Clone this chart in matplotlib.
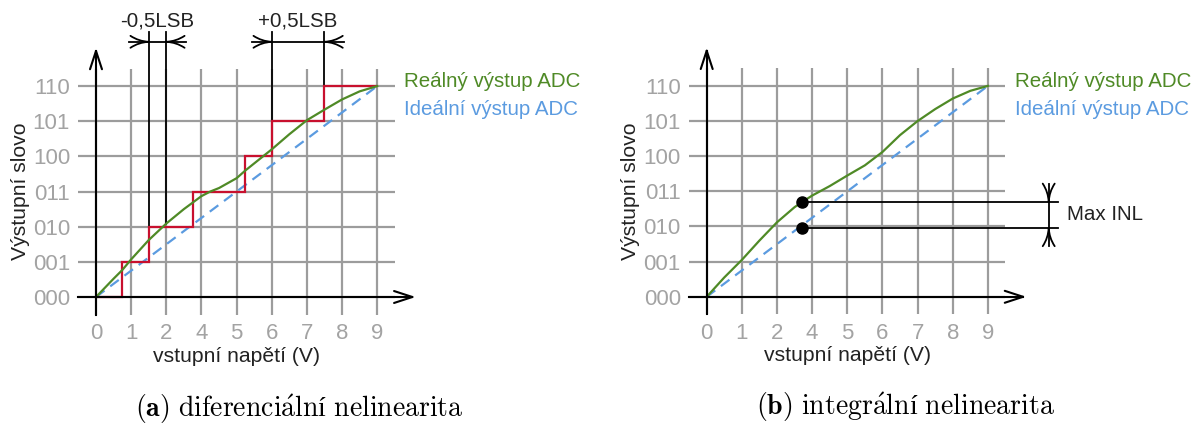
import numpy as np
import matplotlib
matplotlib.use("Agg")
import matplotlib.pyplot as plt
from matplotlib.path import Path
from matplotlib.patches import PathPatch

plt.rcParams['font.family'] = ['Liberation Sans', 'DejaVu Sans']
plt.rcParams['mathtext.fontset'] = 'cm'

# ---- data -------------------------------------------------------------
x_tick_labels = ['0', '1', '2', '4', '5', '6', '7', '8', '9']
y_tick_labels = ['000', '001', '010', '011', '100', '101', '110']

# ideal transfer line (end points)
ideal_x = [0, 8]
ideal_y = [0, 6]

# real (non-linear) transfer curve, panel (a)
real_x_a = [0, 0.5, 0.75, 1, 1.5, 2, 2.5, 3, 3.25, 3.5, 4, 4.25, 4.5, 5,
            5.5, 6, 6.5, 7, 7.5, 8]
real_y_a = [0, 0.52, 0.77, 1.07, 1.62, 2.09, 2.5, 2.87, 3.0, 3.1, 3.38,
            3.6, 3.8, 4.2, 4.63, 5.03, 5.33, 5.62, 5.85, 6.0]

# real (non-linear) transfer curve, panel (b)
real_x_b = [0, 0.5, 1, 1.5, 2, 2.5, 2.72, 3, 3.5, 4, 4.5, 5, 5.5, 6, 6.5,
            7, 7.5, 8]
real_y_b = [0, 0.55, 1.05, 1.6, 2.12, 2.55, 2.7, 2.88, 3.15, 3.45, 3.74,
            4.12, 4.6, 5.0, 5.34, 5.64, 5.86, 6.0]

# quantisation staircase of the real converter
step_edges = [0, 0.75, 1.5, 2.75, 4.25, 5.0, 6.5, 8.0]
step_codes = [0, 1, 2, 3, 4, 5, 6]

# DNL markers: (left edge, right edge) of each code width deviation
dnl_minus = (1.5, 2.0)
dnl_plus = (5.0, 6.5)

# INL markers
inl_x = 2.72
inl_real = 2.70
inl_ideal = 1.96

# ---- style ------------------------------------------------------------
GREEN = '#4f8a26'
BLUE = '#5b9be0'
RED = '#c8102e'
GRID = '#9c9c9c'
TICK = '#a3a3a3'
TXT = '#222222'
FS = 14.8
FS_TICK = 16

W_PX, H_PX = 1201, 425
UNIT = 35.15  # pixels per data unit


def open_head(ax, tip, direction, length=0.52, half=0.17, curved=True,
              lw=1.3):
    d = np.asarray(direction, float)
    d = d / np.hypot(*d)
    n = np.array([-d[1], d[0]])
    tip = np.asarray(tip, float)
    for s in (1, -1):
        end = tip - length * d + s * half * n
        if curved:
            ctrl = tip - 0.55 * length * d + s * 0.08 * half * n
            path = Path([tip, ctrl, end], [Path.MOVETO, Path.CURVE3, Path.CURVE3])
        else:
            path = Path([tip, end], [Path.MOVETO, Path.LINETO])
        ax.add_patch(PathPatch(path, fill=False, lw=lw, color='black',
                               clip_on=False, capstyle='round', zorder=6))


def make_axes(fig, ox, oy):
    left = ox - 0.5 * UNIT
    bottom = H_PX - (oy + 0.5 * UNIT)
    ax = fig.add_axes([left / W_PX, bottom / H_PX, 9 * UNIT / W_PX,
                       7 * UNIT / H_PX])
    ax.set_xlim(-0.5, 8.5)
    ax.set_ylim(-0.5, 6.5)
    ax.set_xticks(range(9), x_tick_labels)
    ax.set_yticks(range(7), y_tick_labels)
    ax.grid(True, color=GRID, lw=1.6)
    ax.set_axisbelow(True)
    for sp in ax.spines.values():
        sp.set_visible(False)
    ax.tick_params(length=0, labelsize=FS_TICK, labelcolor=TICK)
    ax.tick_params(axis='x', pad=6)
    ax.tick_params(axis='y', pad=6)

    # axes with arrows
    ax.plot([0, 0], [-0.5, 7.0], color='black', lw=1.5, clip_on=False,
            zorder=5)
    ax.plot([-0.5, 9.0], [0, 0], color='black', lw=1.5, clip_on=False,
            zorder=5)
    open_head(ax, (0, 7.0), (0, 1), curved=False, lw=1.5)
    open_head(ax, (9.0, 0), (1, 0), curved=False, lw=1.5)

    ax.text(-2.16, 3.0, 'Výstupní slovo', rotation=90, ha='center',
            va='center', fontsize=15.2, color=TXT)
    ax.text(4.0, -1.68, 'vstupní napětí (V)', ha='center', va='center',
            fontsize=15.2, color=TXT)
    ax.text(8.76, 5.98, 'Reálný výstup ADC', color=GREEN, fontsize=FS,
            ha='left', va='baseline', clip_on=False)
    ax.text(8.76, 5.18, 'Ideální výstup ADC', color=BLUE, fontsize=FS,
            ha='left', va='baseline', clip_on=False)
    ax.plot(ideal_x, ideal_y, color=BLUE, lw=1.6, dashes=(4.8, 3.2),
            zorder=3)
    return ax


fig = plt.figure(figsize=(W_PX / 100, H_PX / 100), dpi=100)

# ---- panel (a): differential non-linearity ----------------------------
ax_a = make_axes(fig, 96.0, 297.0)
ax_a.stairs(step_codes, step_edges, baseline=None, color=RED, lw=1.6,
            zorder=3.5)
ax_a.plot(real_x_a, real_y_a, color=GREEN, lw=1.6, zorder=4)

dim_y = 7.26
top_y = 7.54
for (x0, x1), label in ((dnl_minus, '-0,5LSB'), (dnl_plus, '+0,5LSB')):
    y_end0 = step_codes[step_edges.index(x0)]
    if x1 in step_edges:
        y_end1 = step_codes[step_edges.index(x1) - 1]
    else:
        y_end1 = float(np.interp(x1, real_x_a, real_y_a))
    ax_a.plot([x0, x0], [y_end0, top_y], color='black', lw=1.3,
              clip_on=False, zorder=3)
    ax_a.plot([x1, x1], [y_end1, top_y], color='black', lw=1.3,
              clip_on=False, zorder=3)
    ax_a.plot([x0 - 0.55, x1 + 0.55], [dim_y, dim_y], color='black', lw=1.3,
              clip_on=False)
    open_head(ax_a, (x0, dim_y), (1, 0))
    open_head(ax_a, (x1, dim_y), (-1, 0))
    ax_a.text((x0 + x1) / 2, 7.69, label, ha='center', va='baseline',
              fontsize=FS, color=TXT)

# ---- panel (b): integral non-linearity --------------------------------
ax_b = make_axes(fig, 706.7, 296.8)
ax_b.plot(real_x_b, real_y_b, color=GREEN, lw=1.6, zorder=4)
ax_b.plot([inl_x, inl_x], [inl_real, inl_ideal], 'o', color='black',
          ms=8, zorder=6)
for yv in (inl_real, inl_ideal):
    ax_b.plot([inl_x, 10.0], [yv, yv], color='black', lw=1.3, clip_on=False,
              zorder=5)
x_dim = 9.73
ax_b.plot([x_dim, x_dim], [inl_real + 0.52, inl_real], color='black',
          lw=1.3, clip_on=False)
ax_b.plot([x_dim, x_dim], [inl_ideal, inl_ideal - 0.52], color='black',
          lw=1.3, clip_on=False)
ax_b.plot([x_dim, x_dim], [inl_ideal, inl_real], color='black', lw=1.3,
          clip_on=False)
open_head(ax_b, (x_dim, inl_real), (0, -1))
open_head(ax_b, (x_dim, inl_ideal), (0, 1))
ax_b.text(10.24, 2.18, 'Max INL', ha='left', va='baseline', fontsize=FS,
          color=TXT, clip_on=False)

# ---- captions ---------------------------------------------------------
cap_font = ['Liberation Serif', 'DejaVu Serif']
fig.text(299 / W_PX, (H_PX - 416.7) / H_PX,
         r'$\mathbf{(a)}\ \mathrm{diferenci\acute{a}ln}$í$\ \mathrm{nelinearita}$',
         ha='center', va='baseline', fontsize=20, color='black',
         family=cap_font)
fig.text(905 / W_PX, (H_PX - 415.0) / H_PX,
         r'$\mathbf{(b)}\ \mathrm{integr\acute{a}ln}$í$\ \mathrm{nelinearita}$',
         ha='center', va='baseline', fontsize=20, color='black',
         family=cap_font)

fig.savefig('out.png', dpi=100)
